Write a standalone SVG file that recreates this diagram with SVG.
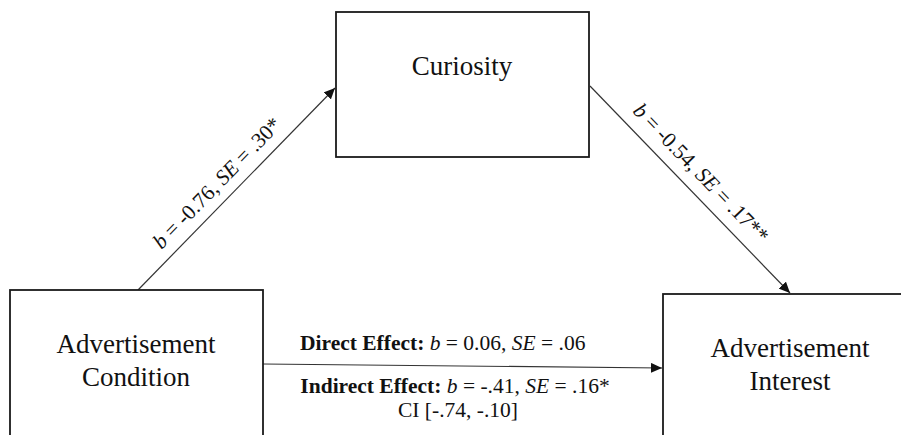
<svg xmlns="http://www.w3.org/2000/svg" width="901" height="435" viewBox="0 0 901 435">
<style>
.box{fill:#fff;stroke:#1a1a1a;stroke-width:1.8}
.node{font-family:"Liberation Serif","Times New Roman",serif;font-size:27px;fill:#111;text-anchor:middle}
.lab{font-family:"Liberation Serif","Times New Roman",serif;font-size:21.5px;fill:#111;text-anchor:middle}
.edge{stroke:#333;stroke-width:1.2;fill:none;marker-end:url(#ah)}
</style>
<defs>
<marker id="ah" markerUnits="userSpaceOnUse" markerWidth="12" markerHeight="10" refX="11" refY="5" orient="auto">
<path d="M0,0 L11,5 L0,10 Z" fill="#111"/>
</marker>
</defs>
<rect width="901" height="435" fill="#fff"/>
<g id="connectors">
<line class="edge" x1="138" y1="290" x2="335" y2="88"/>
<line class="edge" x1="590" y1="86" x2="790" y2="293"/>
<line class="edge" x1="263" y1="364" x2="662" y2="368"/>
</g>
<g id="curiosity">
<rect class="box" x="336" y="12" width="253" height="145"/>
<text class="node" x="462" y="75">Curiosity</text>
</g>
<g id="condition">
<rect class="box" x="10" y="290" width="253" height="160"/>
<text class="node" x="136" y="353">Advertisement</text>
<text class="node" x="136" y="386">Condition</text>
</g>
<g id="interest">
<rect class="box" x="663" y="294" width="260" height="160"/>
<text class="node" x="790" y="357">Advertisement</text>
<text class="node" x="790" y="390">Interest</text>
</g>
<g id="labels">
<text class="lab" transform="translate(222,188) rotate(-45.7)"><tspan font-style="italic">b</tspan> = -0.76, <tspan font-style="italic">SE</tspan> = .30*</text>
<text class="lab" transform="translate(696,178) rotate(46)"><tspan font-style="italic">b</tspan> = -0.54, <tspan font-style="italic">SE</tspan> = .17**</text>
<text class="lab" x="300" y="350" style="text-anchor:start"><tspan font-weight="bold">Direct Effect:</tspan> <tspan font-style="italic">b</tspan> = 0.06, <tspan font-style="italic">SE</tspan> = .06</text>
<text class="lab" x="455" y="393"><tspan font-weight="bold">Indirect Effect:</tspan> <tspan font-style="italic">b</tspan> = -.41, <tspan font-style="italic">SE</tspan> = .16*</text>
<text class="lab" x="458" y="417">CI [-.74, -.10]</text>
</g>
</svg>
